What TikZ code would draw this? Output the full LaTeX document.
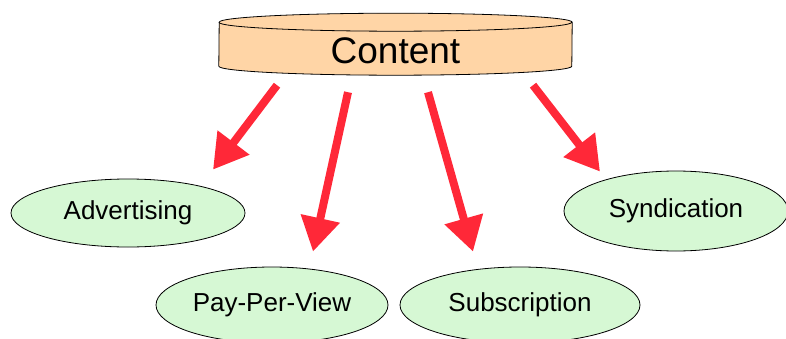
\documentclass[tikz,border=0pt]{standalone}
\usepackage{fontspec}
\setmainfont{Liberation Sans}
\usepackage{tikz}
\usetikzlibrary{calc, positioning, shapes, arrows.meta, backgrounds}
\definecolor{drumfill}{RGB}{255,213,166}
\definecolor{leaffill}{RGB}{214,248,212}
\definecolor{flowred}{RGB}{255,40,56}
\tikzstyle{drum}=[draw=black, fill=drumfill, line width=0.8pt]
\tikzstyle{leaf}=[ellipse, draw=black, fill=leaffill, line width=0.8pt, inner sep=0pt, font=\fontsize{26}{30}\selectfont]
\tikzstyle{flow}=[draw=flowred, line width=8pt, -{Triangle[length=34pt,width=38pt]}]

\begin{document}
\begin{tikzpicture}[x=1pt, y=1pt]

		\useasboundingbox (0,0) rectangle (786,338);

		%the content drum on top
		\node[minimum width=353pt, minimum height=48pt, inner sep=0pt, font=\fontsize{37}{40}\selectfont] (content) at (395.5,287) {Content};
		\begin{scope}[on background layer]
			\filldraw[drum] ($(content.south west)+(0,9)$) arc[start angle=180, end angle=360, x radius=176.5, y radius=9] -- ($(content.south east)+(0,53)$) arc[start angle=0, end angle=180, x radius=176.5, y radius=9] -- cycle;
			\draw[drum, fill=none] ($(content.south west)+(0,53)$) arc[start angle=180, end angle=360, x radius=176.5, y radius=9];
		\end{scope}

		%the revenue models
		\node[leaf, minimum width=234pt, minimum height=68pt] (adv) at (128,125) {Advertising};
		\node[leaf, minimum width=232pt, minimum height=76pt] (ppv) at (272,33) {Pay-Per-View};
		\node[leaf, minimum width=240pt, minimum height=76pt] (sub) at (520,33) {Subscription};
		\node[leaf, minimum width=224pt, minimum height=80pt] (syn) at (676,127) {Syndication};

		%arrows
		\draw[flow] ($(content.south)+(-118.5,-10)$) -- ($(adv.north)+(85,9)$);
		\draw[flow] ($(content.south)+(-47.5,-17)$) -- ($(ppv.north)+(41,15)$);
		\draw[flow] ($(content.south)+(32.5,-17)$) -- ($(sub.north)+(-47,15)$);
		\draw[flow] ($(content.south)+(137.5,-10)$) -- ($(syn.north)+(-76,-1)$);

	\end{tikzpicture}
\end{document}
